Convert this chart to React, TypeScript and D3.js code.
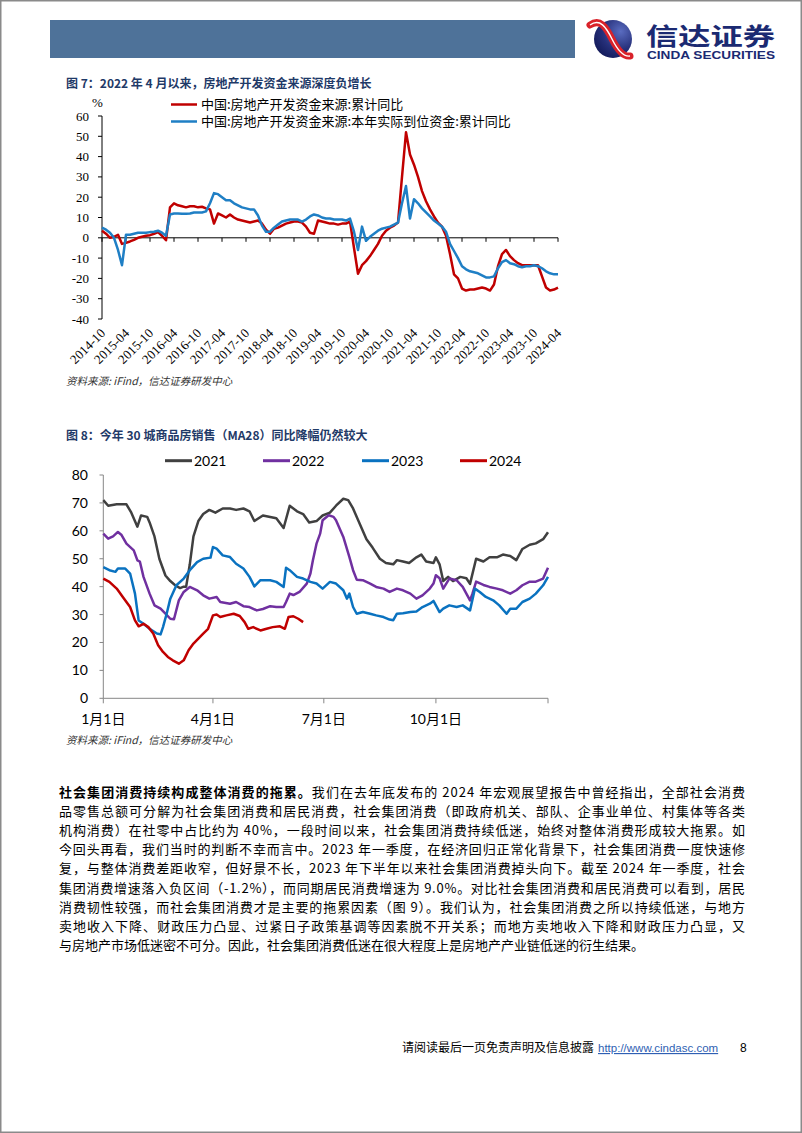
import React from 'react';
import * as d3 from 'd3';

// ---------- Chart 1 data (monthly, 2014-10 .. 2024-04) ----------
const xLabels1 = ['2014-10','2015-04','2015-10','2016-04','2016-10','2017-04','2017-10','2018-04','2018-10','2019-04','2019-10','2020-04','2020-10','2021-04','2021-10','2022-04','2022-10','2023-04','2023-10','2024-04'];
const yTicks1 = [60, 50, 40, 30, 20, 10, 0, -10, -20, -30, -40];
const legend1 = ['中国:房地产开发资金来源:累计同比', '中国:房地产开发资金来源:本年实际到位资金:累计同比'];
const fundsTotal = [
  3.5, 2, 0, 0.5, 1.5, -3, -2.5, -1.8, -1, 0,
  0.5, 1, 1.3, 2, 2.8, 1, -1.2, 15, 17, 16,
  15.5, 15, 15.5, 15.5, 15, 15.3, 14.5, 14, 7, 12,
  11, 10, 11.5, 10, 9, 8.5, 8, 7.5, 8, 8.5,
  7, 4, 2, 4.5, 5, 6, 7, 7.5, 8, 8,
  7.5, 5.5, 2.5, 2, 8.5, 8, 7.5, 7, 7, 6.5,
  7, 7, 8, -5, -17.7, -13.5, -11.5, -9, -6, -3,
  1, 3.5, 5, 6, 7.5, 30, 52, 41, 36, 30,
  23, 18, 14, 10.5, 7.5, 5.5, 1, -8, -18, -20,
  -25, -26, -25.5, -25.5, -25, -24.5, -25, -26, -23, -14,
  -8, -6, -9, -11, -12.5, -13.5, -13.5, -13.5, -13.5, -13.5,
  -19, -24.5, -26, -25.5, -24.5,
];
const fundsActual = [
  5, 4, 2.5, 0, -6, -13.5, 1.5, 1.5, 2, 2.5,
  2.5, 2.5, 2.8, 3, 3.5, 2.5, 1, 11.5, 12, 12,
  11.8, 11.8, 12, 12.5, 12.5, 12.5, 13, 17, 22, 21.5,
  20, 18.5, 18.5, 17, 16, 15, 14.5, 14, 14, 11,
  6, 3, 3, 5, 6.5, 8, 8.5, 9, 9, 9,
  8, 9, 10.5, 11.5, 11, 10, 9.5, 9.5, 9, 9,
  9, 8.5, 9.5, 3, -6, 5.5, -1.5, 0.5, 2, 3.5,
  4.5, 5, 5.5, 6.5, 7.5, 17, 25.5, 9.5, 19, 17,
  14.5, 12.5, 10.5, 8.5, 7, 5.5, 3, -3, -6.5, -10,
  -14, -15.5, -16.5, -17, -17.5, -18.5, -19.5, -19.5, -19, -15,
  -12, -11, -12.5, -13, -14, -14.5, -14, -14, -13.5, -14,
  -15, -16.5, -17.5, -18, -18,
];

// ---------- Chart 2 data ([day of year, value]) ----------
const xTickDays2 = [0, 90, 181, 273, 365];
const xTickLabels2 = ['1月1日', '4月1日', '7月1日', '10月1日', ''];
const yTicks2 = [0, 10, 20, 30, 40, 50, 60, 70, 80];
const years2 = ['2021', '2022', '2023', '2024'];
const s2021: [number, number][] = [[0,71],[4,69],[11,69.5],[19,69.5],[23,66.5],[28,61.5],[31,65.5],[36,65],[38,63],[42,58],[46,50],[51,44],[55,42],[59,40.5],[63,39.5],[66,40],[68,40],[71,48],[74,58],[78,63.5],[82,66],[87,67.5],[92,66.5],[98,68],[104,68],[109,67.5],[115,68],[120,67],[124,63.5],[131,65.5],[142,64.5],[148,61],[153,69],[159,67],[164,66],[169,63],[175,63.5],[180,65.5],[186,66.5],[191,69],[197,71.5],[201,71],[205,68],[210,63],[216,57],[221,54],[227,50],[232,48.5],[238,48],[241,49.5],[246,49],[251,48.5],[257,50.5],[261,51.5],[265,49],[271,48.5],[273,50.5],[276,48],[279,42],[283,43.5],[287,42],[293,43.5],[298,43],[301,41],[306,50],[312,49],[317,50.5],[323,50.5],[328,51.5],[334,51],[339,49.5],[344,53.5],[350,55],[355,55.5],[361,57],[365,59.5]];
const s2022: [number, number][] = [[0,59],[4,57.2],[8,58],[12,59.6],[15,58.5],[19,55.4],[25,53],[28,49.4],[30,49],[33,43.5],[38,37.5],[42,33.3],[47,32.1],[51,30.3],[55,28.5],[58,28.3],[62,35.1],[66,38.1],[71,39.9],[77,38.7],[82,36.9],[87,35.7],[93,36.3],[96,34.5],[104,33.9],[109,34.5],[115,33],[120,32.7],[126,31.5],[131,32],[137,33],[142,32.7],[148,32.7],[150,34.5],[153,37.5],[156,37],[161,38.1],[167,41.1],[170,44.7],[172,49.4],[175,55.4],[178,59],[180,63.8],[185,65.6],[189,65],[191,63.8],[197,57.8],[202,50.6],[205,45.9],[208,42.5],[213,42.3],[219,41.1],[224,39.9],[230,39.3],[235,38.1],[241,39.3],[246,38.7],[252,37.5],[257,35.7],[262,36.9],[268,39.3],[271,41.1],[273,44.1],[276,43],[279,39.3],[284,42.9],[290,42.3],[295,39.9],[301,35.1],[303,37.5],[306,41.8],[312,40.6],[317,39.9],[323,39.3],[328,38.7],[334,37.5],[339,38.7],[344,40.5],[350,41.8],[355,41.8],[361,42.9],[365,46.8]];
const s2023: [number, number][] = [[0,47],[5,45.9],[10,45.3],[12,46.5],[18,46.5],[22,44.7],[26,37.5],[29,27.9],[33,26.7],[38,24.9],[44,23.2],[47,22.9],[49,25.5],[52,30.3],[55,35.7],[60,40.5],[66,42.9],[71,45.9],[77,48.8],[82,50],[88,50.4],[90,54.2],[93,53.6],[98,51.2],[104,50.6],[109,48.2],[115,46.5],[120,43.5],[124,40.1],[129,42.3],[137,42.3],[142,41.7],[148,39.9],[150,46.8],[153,45.9],[159,43.5],[164,42.9],[170,41.7],[175,41.1],[180,39.3],[186,41.7],[191,41.1],[197,38.7],[200,35.7],[202,37.5],[205,32.7],[208,30.3],[213,30.9],[219,30.3],[224,29.7],[230,29.1],[235,28.2],[238,28],[241,30.3],[246,30.5],[252,30.9],[257,31.1],[262,32.7],[268,33.9],[271,34.9],[276,30.9],[279,32.1],[284,33.3],[290,32.7],[295,33.3],[301,31.5],[305,39.3],[309,38.1],[314,36.3],[320,35.1],[325,33.3],[331,30.3],[334,32.1],[339,32.1],[344,34.5],[350,35.7],[355,37.5],[361,40.5],[365,43.5]];
const s2024: [number, number][] = [[0,42.9],[5,41.7],[11,39.3],[16,36.3],[22,32.7],[26,27.9],[29,25.8],[33,26.7],[37,25.5],[41,23.2],[45,19],[49,16.6],[53,14.8],[57,13.6],[62,12.4],[66,13.6],[70,17.2],[74,19.6],[78,21.4],[82,23.2],[86,24.9],[90,29.7],[93,30],[96,29.1],[101,29.7],[107,30.3],[112,29.5],[116,27.3],[119,24.9],[123,25.5],[129,24.3],[134,24.9],[139,25.5],[145,25.8],[149,24.9],[152,29.1],[156,29.4],[160,28.5],[164,27.3]];

const paragraph = [
  '品零售总额可分解为社会集团消费和居民消费，社会集团消费（即政府机关、部队、企事业单位、村集体等各类',
  '机构消费）在社零中占比约为 40%，一段时间以来，社会集团消费持续低迷，始终对整体消费形成较大拖累。如',
  '今回头再看，我们当时的判断不幸而言中。2023 年一季度，在经济回归正常化背景下，社会集团消费一度快速修',
  '复，与整体消费差距收窄，但好景不长，2023 年下半年以来社会集团消费掉头向下。截至 2024 年一季度，社会',
  '集团消费增速落入负区间（-1.2%），而同期居民消费增速为 9.0%。对比社会集团消费和居民消费可以看到，居民',
  '消费韧性较强，而社会集团消费才是主要的拖累因素（图 9）。我们认为，社会集团消费之所以持续低迷，与地方',
  '卖地收入下降、财政压力凸显、过紧日子政策基调等因素脱不开关系；而地方卖地收入下降和财政压力凸显，又',
  '与房地产市场低迷密不可分。因此，社会集团消费低迷在很大程度上是房地产产业链低迷的衍生结果。',
];

const CJK = '"Noto Sans CJK SC", "Noto Sans", sans-serif';
const SERIF = '"Liberation Serif", "DejaVu Serif", serif';
const SANS2 = 'Lato, "Noto Sans CJK SC", sans-serif';
const TITLE_COLOR = '#1f3a68';

export default function App() {
  // chart 1 scales
  const x1 = d3.scaleLinear().domain([0, 114]).range([102, 558]);
  const y1 = d3.scaleLinear().domain([-40, 60]).range([319, 116]);
  const line1 = d3.line<number>().x((_, i) => x1(i)).y(d => y1(d));

  // chart 2 scales
  const x2 = d3.scaleLinear().domain([0, 365]).range([103.3, 548]);
  const y2 = d3.scaleLinear().domain([0, 80]).range([698.3, 475]);
  const line2 = d3.line<[number, number]>().x(d => x2(d[0])).y(d => y2(d[1]));
  const series2 = [
    { name: years2[0], data: s2021, color: '#404040' },
    { name: years2[1], data: s2022, color: '#7030a0' },
    { name: years2[2], data: s2023, color: '#0a72c0' },
    { name: years2[3], data: s2024, color: '#c00000' },
  ];
  const legend2X = [165, 263, 362, 460];

  return (
    <svg width={802} height={1133} style={{ position: 'absolute', left: 0, top: 0, background: '#fff' }}>
      <rect x={0.75} y={0.75} width={800.5} height={1131.5} fill="#fff" stroke="#8a8a8a" strokeWidth={1.5} />
      {/* header */}
      <rect x={50} y={20} width={525} height={38} fill="#4e7299" />
      <defs>
        <radialGradient id="lg" cx="0.7" cy="0.3" r="0.8">
          <stop offset="0" stopColor="#5a6cc0" />
          <stop offset="0.6" stopColor="#26307a" />
          <stop offset="1" stopColor="#131a5a" />
        </radialGradient>
      </defs>
      <circle cx={613} cy={39} r={19} fill="url(#lg)" />
      <path d="M 590 25 C 600 18, 606 27, 612 39 C 618 51, 624 57, 630 56" fill="none" stroke="#d9222a" strokeWidth={7} strokeLinecap="round" />
      <path d="M 590 25 C 600 18, 606 27, 612 39 C 618 51, 624 57, 630 56" fill="none" stroke="#fff" strokeWidth={1.4} />
      <text x={646} y={44.5} fontFamily={CJK} fontWeight={700} fontSize={24} fill="#1b2a72" textLength={129} lengthAdjust="spacingAndGlyphs">信达证券</text>
      <text x={647} y={58.5} fontFamily='"Liberation Sans", Arial, sans-serif' fontWeight={700} fontSize={10} fill="#1b2a72" textLength={128} lengthAdjust="spacingAndGlyphs">CINDA SECURITIES</text>

      {/* chart 1 */}
      <text x={66} y={87.5} fontFamily={CJK} fontWeight={700} fontSize={12} fill={TITLE_COLOR}>图 7：2022 年 4 月以来，房地产开发资金来源深度负增长</text>
      <text x={92} y={107} fontFamily={SERIF} fontSize={13} fill="#000">%</text>
      {legend1.map((t, i) => (
        <g key={t}>
          <line x1={171} x2={197} y1={104.5 + i * 17} y2={104.5 + i * 17} stroke={i === 0 ? '#c00000' : '#1f7fc5'} strokeWidth={2.5} />
          <text x={201} y={109 + i * 17} fontFamily={CJK} fontSize={13} fill="#000">{t}</text>
        </g>
      ))}
      <line x1={102} x2={102} y1={y1(60)} y2={y1(-40)} stroke="#000" strokeWidth={1} />
      {yTicks1.map(v => (
        <g key={v}>
          <line x1={98} x2={102} y1={y1(v)} y2={y1(v)} stroke="#000" strokeWidth={1} />
          <text x={89} y={y1(v) + 4.5} textAnchor="end" fontFamily={SERIF} fontSize={13} fill="#000">{v}</text>
        </g>
      ))}
      <line x1={102} x2={558} y1={y1(0)} y2={y1(0)} stroke="#000" strokeWidth={1} />
      {xLabels1.map((t, i) => (
        <g key={t}>
          <line x1={x1(i * 6)} x2={x1(i * 6)} y1={y1(0)} y2={y1(0) + 4} stroke="#000" strokeWidth={1} />
          <text transform={`translate(${x1(i * 6) + 4},${334}) rotate(-45)`} textAnchor="end" fontFamily={SERIF} fontSize={13} fill="#000">{t}</text>
        </g>
      ))}
      <path d={line1(fundsTotal) || ''} fill="none" stroke="#c00000" strokeWidth={2.5} strokeLinejoin="round" />
      <path d={line1(fundsActual) || ''} fill="none" stroke="#1f7fc5" strokeWidth={2.5} strokeLinejoin="round" />
      <text x={66} y={385} fontFamily={CJK} fontStyle="italic" fontSize={10.5} fill="#333">资料来源: iFind，信达证券研发中心</text>

      {/* chart 2 */}
      <text x={66} y={440} fontFamily={CJK} fontWeight={700} fontSize={12} fill={TITLE_COLOR}>图 8：今年 30 城商品房销售（MA28）同比降幅仍然较大</text>
      {series2.map((s, i) => (
        <g key={s.name}>
          <line x1={legend2X[i]} x2={legend2X[i] + 27} y1={460.7} y2={460.7} stroke={s.color} strokeWidth={3} />
          <text x={legend2X[i] + 29} y={465.5} fontFamily={SANS2} fontSize={14} fill="#000">{s.name}</text>
        </g>
      ))}
      <line x1={103.3} x2={103.3} y1={y2(80)} y2={y2(0)} stroke="#868686" strokeWidth={1} />
      {yTicks2.map(v => (
        <g key={v}>
          <line x1={99.5} x2={103.3} y1={y2(v)} y2={y2(v)} stroke="#868686" strokeWidth={1} />
          <text x={88} y={y2(v) + 5} textAnchor="end" fontFamily={SANS2} fontSize={14} fill="#000">{v}</text>
        </g>
      ))}
      <line x1={103.3} x2={548} y1={y2(0)} y2={y2(0)} stroke="#868686" strokeWidth={1} />
      {xTickDays2.map((d, i) => (
        <g key={d}>
          <line x1={x2(d)} x2={x2(d)} y1={y2(0)} y2={y2(0) + 5} stroke="#868686" strokeWidth={1} />
          <text x={x2(d)} y={724} textAnchor="middle" fontFamily={SANS2} fontSize={14} fill="#000">{xTickLabels2[i]}</text>
        </g>
      ))}
      {series2.map(s => (
        <path key={s.name} d={line2(s.data) || ''} fill="none" stroke={s.color} strokeWidth={2.5} strokeLinejoin="round" />
      ))}
      <text x={66} y={744} fontFamily={CJK} fontStyle="italic" fontSize={10.5} fill="#333">资料来源: iFind，信达证券研发中心</text>

      {/* paragraph */}
      <text x={59} y={797} fontFamily={CJK} fontSize={13} fill="#000" textLength={686} lengthAdjust="spacing">
        <tspan fontWeight={700}>社会集团消费持续构成整体消费的拖累。</tspan>
        <tspan>我们在去年底发布的 2024 年宏观展望报告中曾经指出，全部社会消费</tspan>
      </text>
      {paragraph.map((t, i) => (
        <text key={i} x={59} y={797 + (i + 1) * 19.1} fontFamily={CJK} fontSize={13} fill="#000"
          {...(i < paragraph.length - 1 ? { textLength: 686, lengthAdjust: 'spacing' } : {})}>{t}</text>
      ))}

      {/* footer */}
      <text x={402} y={1052} fontFamily={CJK} fontSize={12} fill="#000">请阅读最后一页免责声明及信息披露</text>
      <text x={598} y={1052} fontFamily='"Liberation Sans", Arial, sans-serif' fontSize={11.5} fill="#2f5fb3" textDecoration="underline">http://www.cindasc.com</text>
      <text x={740} y={1052} fontFamily='"Liberation Sans", Arial, sans-serif' fontSize={12} fill="#000">8</text>
    </svg>
  );
}
